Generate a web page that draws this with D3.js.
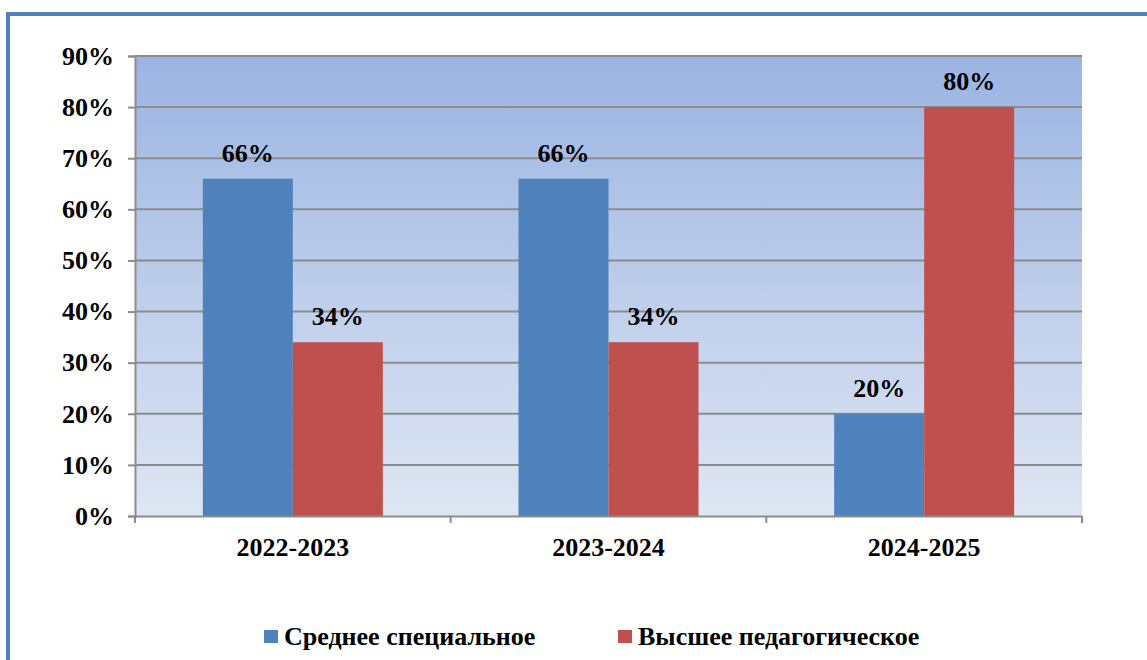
<!DOCTYPE html>
<html>
<head>
<meta charset="utf-8">
<script src="https://cdn.jsdelivr.net/npm/d3@7"></script>
<style>
  body { margin: 0; background: #fff; }
</style>
</head>
<body>
<div id="chart"></div>
<script>
// data
const years = ['2022-2023', '2023-2024', '2024-2025'];
const seriesNames = ['Среднее специальное', 'Высшее педагогическое'];
const srednee = [66, 66, 20];
const vysshee = [34, 34, 80];
const yTicks = [0, 10, 20, 30, 40, 50, 60, 70, 80, 90];

const W = 1147, H = 660;
const colors = ['#4F81BD', '#C0504D'];
const padding = {left: 135, right: 65, top: 56, bottom: 144};
const fontSize = '26px';
const fontFam = "'Liberation Serif', 'Times New Roman', Times, serif";

function serif(sel) {
    sel.style('font-family', fontFam)
       .style('font-size', fontSize)
       .style('font-weight', 'bold')
       .attr('fill', '#000');
}

const svg = d3.select('#chart').append('svg')
    .attr('width', W).attr('height', H);

// outer frame
svg.append('rect')
    .attr('x', 8).attr('y', 14)
    .attr('width', W + 20).attr('height', H + 20)
    .attr('fill', 'none')
    .attr('stroke', '#4F81BD')
    .attr('stroke-width', 4);

const pw = W - padding.left - padding.right;
const ph = H - padding.top - padding.bottom;

const defs = svg.append('defs');
const grad = defs.append('linearGradient')
    .attr('id', 'bg').attr('x1', 0).attr('y1', 0).attr('x2', 0).attr('y2', 1);
grad.append('stop').attr('offset', '0%').attr('stop-color', '#9AB4E2');
grad.append('stop').attr('offset', '100%').attr('stop-color', '#DFE6F3');

const g = svg.append('g').attr('transform', 'translate(' + padding.left + ',' + padding.top + ')');

g.append('rect').attr('width', pw).attr('height', ph).attr('fill', 'url(#bg)');

const x0 = d3.scaleBand().domain(years).range([0, pw]).paddingInner(0).paddingOuter(0);
const barW = 90;
const yScale = d3.scaleLinear().domain([0, 90]).range([ph, 0]);

// gridlines
g.selectAll('.grid').data(yTicks.slice(1)).enter().append('line')
    .attr('x1', 0).attr('x2', pw)
    .attr('y1', d => yScale(d)).attr('y2', d => yScale(d))
    .attr('stroke', '#8C8C8C').attr('stroke-width', 2);

// bars
const data = years.map((yr, i) => ({yr: yr, vals: [srednee[i], vysshee[i]]}));
const grp = g.selectAll('.grp').data(data).enter().append('g')
    .attr('transform', d => 'translate(' + (x0(d.yr) + x0.bandwidth() / 2 - barW) + ',0)');

grp.selectAll('rect').data(d => d.vals).enter().append('rect')
    .attr('x', (d, i) => i * barW)
    .attr('y', d => yScale(d))
    .attr('width', barW)
    .attr('height', d => ph - yScale(d))
    .attr('fill', (d, i) => colors[i]);

grp.selectAll('text').data(d => d.vals).enter().append('text')
    .attr('x', (d, i) => i * barW + barW / 2)
    .attr('y', d => yScale(d) - 17)
    .attr('text-anchor', 'middle')
    .text(d => d + '%')
    .call(serif);

// y axis
const yAxis = g.append('g')
    .call(d3.axisLeft(yScale).tickValues(yTicks).tickFormat(d => d + '%').tickSize(7).tickPadding(14));
yAxis.attr('font-family', null);
yAxis.select('.domain').attr('stroke', '#8C8C8C').attr('stroke-width', 2);
yAxis.selectAll('.tick line').attr('stroke', '#8C8C8C').attr('stroke-width', 2);
yAxis.selectAll('.tick text').call(serif);

// x axis
const xAxis = g.append('g').attr('transform', 'translate(0,' + ph + ')')
    .call(d3.axisBottom(x0).tickSize(0).tickPadding(22));
xAxis.attr('font-family', null);
xAxis.select('.domain').attr('stroke', '#8C8C8C').attr('stroke-width', 2);
xAxis.selectAll('.tick text').call(serif);
xAxis.selectAll('.sep').data([0, 1, 2, 3]).enter().append('line')
    .attr('x1', d => d * x0.step()).attr('x2', d => d * x0.step())
    .attr('y1', 0).attr('y2', 7)
    .attr('stroke', '#8C8C8C').attr('stroke-width', 2);

// legend
const legendX = [264, 618];
const leg = svg.selectAll('.leg').data(seriesNames).enter().append('g')
    .attr('transform', (d, i) => 'translate(' + legendX[i] + ',630)');
leg.append('rect').attr('width', 14).attr('height', 13).attr('fill', (d, i) => colors[i]);
leg.append('text').attr('x', 20).attr('y', 15)
    .text(d => d)
    .call(serif);
</script>
</body>
</html>
